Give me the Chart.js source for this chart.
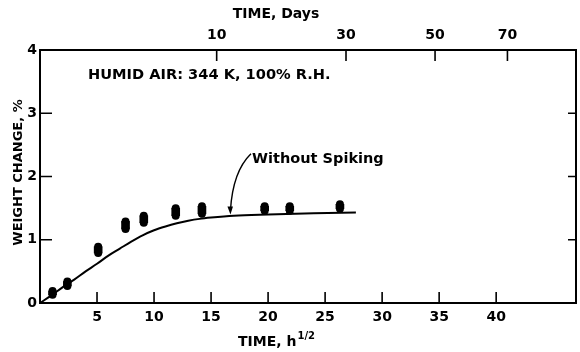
<!DOCTYPE html>
<html>
<head>
<meta charset="utf-8">
<title>Weight change - humid air</title>
<script src="https://cdn.jsdelivr.net/npm/chart.js@4.4.1/dist/chart.umd.min.js"></script>
<style>
  html, body { margin: 0; padding: 0; background: #fff; }
  #wrap { width: 580px; height: 352px; position: relative; }
</style>
</head>
<body>
<div id="wrap"><canvas id="weightChart"></canvas></div>
<script>
// values (x in h^1/2, y in %), two specimens per time
const timeRoot = [1.1, 2.4, 5.1, 7.5, 9.1, 11.9, 14.2, 19.7, 21.9, 26.3];
const weightLow = [0.13, 0.27, 0.79, 1.17, 1.27, 1.38, 1.41, 1.46, 1.46, 1.49];
const weightHigh = [0.19, 0.34, 0.89, 1.29, 1.38, 1.50, 1.53, 1.53, 1.53, 1.56];

// fitted curve "Without Spiking"
const curveTime = [0, 1, 2, 3, 4, 5, 6, 7, 8, 9, 10, 11, 12, 13, 14, 15, 17, 20, 24, 27.7];
const curveWeight = [0, 0.12, 0.25, 0.37, 0.50, 0.62, 0.75, 0.86, 0.97, 1.07, 1.15, 1.21, 1.26, 1.30, 1.33, 1.35, 1.38, 1.40, 1.42, 1.43];

// axes
const rootTicks = [5, 10, 15, 20, 25, 30, 35, 40];
const dayTicks = [10, 30, 50, 70];
const weightTicks = [0, 1, 2, 3, 4];
const innerWeightTicks = [1, 2, 3];

// annotation anchors in data units
const noteText = 'Without Spiking';
const notePos = { x: 18.6, y: 2.27 };
const arrowFrom = { x: 18.5, y: 2.36 };
const arrowBend = { x: 16.9, y: 2.08 };
const arrowTo = { x: 16.7, y: 1.40 };

const FONT = '"DejaVu Sans", sans-serif';

function toPoints(xs, ys) {
  return xs.map((x, i) => ({ x: x, y: ys[i] }));
}

// ticks pointing into the plot, plus titles and notes
const decorPlugin = {
  id: 'decor',
  afterDraw(chart) {
    const ctx = chart.ctx;
    const a = chart.chartArea;
    const x = chart.scales.x, x2 = chart.scales.x2, y = chart.scales.y;
    ctx.save();
    ctx.strokeStyle = '#000';
    ctx.lineWidth = 1.6;
    ctx.beginPath();
    rootTicks.forEach(v => {
      const px = x.getPixelForValue(v);
      ctx.moveTo(px, a.bottom);
      ctx.lineTo(px, a.bottom - 11);
    });
    dayTicks.forEach(d => {
      const px = x2.getPixelForValue(Math.sqrt(d * 24));
      ctx.moveTo(px, a.top);
      ctx.lineTo(px, a.top + 11);
    });
    innerWeightTicks.forEach(v => {
      const py = y.getPixelForValue(v);
      ctx.moveTo(a.left, py);
      ctx.lineTo(a.left + 12, py);
      ctx.moveTo(a.right, py);
      ctx.lineTo(a.right - 8, py);
    });
    ctx.stroke();

    ctx.fillStyle = '#000';
    ctx.textBaseline = 'middle';
    const titleX = a.left + 236;

    // top title
    ctx.font = 'bold 14px ' + FONT;
    ctx.textAlign = 'center';
    ctx.fillText('TIME, Days', titleX, 14);

    // bottom title with superscript
    const base = 'TIME, h';
    const sup = '1/2';
    ctx.font = 'bold 14px ' + FONT;
    const wBase = ctx.measureText(base).width;
    ctx.font = 'bold 10px ' + FONT;
    const wSup = ctx.measureText(sup).width;
    const startX = titleX - (wBase + wSup) / 2;
    ctx.textAlign = 'left';
    ctx.font = 'bold 14px ' + FONT;
    ctx.fillText(base, startX, 342);
    ctx.font = 'bold 10px ' + FONT;
    ctx.fillText(sup, startX + wBase + 1, 336);

    // y title
    ctx.save();
    ctx.translate(19, (a.top + a.bottom) / 2 - 4);
    ctx.rotate(-Math.PI / 2);
    ctx.textAlign = 'center';
    ctx.font = 'bold 13px ' + FONT;
    ctx.fillText('WEIGHT CHANGE, %', 0, 0);
    ctx.restore();

    // condition note
    ctx.textAlign = 'left';
    ctx.font = 'bold 14.6px ' + FONT;
    ctx.fillText('HUMID AIR: 344 K, 100% R.H.', a.left + 48, 75);

    // curve label and arrow
    ctx.font = 'bold 14.5px ' + FONT;
    ctx.fillText(noteText, x.getPixelForValue(notePos.x), y.getPixelForValue(notePos.y));
    const fx = x.getPixelForValue(arrowFrom.x), fy = y.getPixelForValue(arrowFrom.y);
    const bx = x.getPixelForValue(arrowBend.x), by = y.getPixelForValue(arrowBend.y);
    const tx = x.getPixelForValue(arrowTo.x), ty = y.getPixelForValue(arrowTo.y);
    ctx.lineWidth = 1.4;
    ctx.beginPath();
    ctx.moveTo(fx, fy);
    ctx.quadraticCurveTo(bx, by, tx, ty - 4);
    ctx.stroke();
    ctx.beginPath();
    ctx.moveTo(tx, ty);
    ctx.lineTo(tx - 3, ty - 8);
    ctx.lineTo(tx + 2.5, ty - 8);
    ctx.closePath();
    ctx.fill();
    ctx.restore();
  }
};

const axisBorder = { display: true, color: '#000', width: 2 };
const tickFont = { family: FONT, size: 14, weight: 'bold' };
const dotStyle = {
  type: 'scatter',
  backgroundColor: '#000',
  borderColor: '#000',
  pointRadius: 4,
  borderWidth: 0
};

new Chart(document.getElementById('weightChart'), {
  type: 'bar',
  data: {
    datasets: [
      {
        type: 'line',
        label: 'Without Spiking',
        data: toPoints(curveTime, curveWeight),
        borderColor: '#000',
        borderWidth: 2,
        pointRadius: 0,
        cubicInterpolationMode: 'monotone',
        fill: false
      },
      // span between the two specimens, makes each pair read as one blob
      {
        type: 'bar',
        label: 'span',
        data: timeRoot.map((t, i) => ({ x: t, y: [weightLow[i], weightHigh[i]] })),
        backgroundColor: '#000',
        barThickness: 8,
        grouped: false
      },
      Object.assign({ label: 'low', data: toPoints(timeRoot, weightLow) }, dotStyle),
      Object.assign({ label: 'high', data: toPoints(timeRoot, weightHigh) }, dotStyle)
    ]
  },
  options: {
    responsive: true,
    maintainAspectRatio: false,
    animation: false,
    layout: { padding: 0 },
    plugins: {
      legend: { display: false },
      tooltip: { enabled: false }
    },
    scales: {
      x: {
        type: 'linear',
        position: 'bottom',
        min: 0,
        max: 47,
        offset: false,
        afterBuildTicks: s => { s.ticks = rootTicks.map(v => ({ value: v })); },
        afterFit: s => { s.height = 49; },
        ticks: { color: '#000', font: tickFont, padding: 6, maxRotation: 0 },
        grid: { display: false, drawTicks: false, offset: false },
        border: axisBorder
      },
      x2: {
        type: 'linear',
        position: 'top',
        min: 0,
        max: 47,
        offset: false,
        afterBuildTicks: s => { s.ticks = dayTicks.map(d => ({ value: Math.sqrt(d * 24) })); },
        afterFit: s => { s.height = 50; },
        ticks: { color: '#000', font: tickFont, padding: 6, maxRotation: 0, callback: (v, i) => dayTicks[i] },
        grid: { display: false, drawTicks: false, offset: false },
        border: axisBorder
      },
      y: {
        type: 'linear',
        position: 'left',
        min: 0,
        max: 4,
        afterBuildTicks: s => { s.ticks = weightTicks.map(v => ({ value: v })); },
        afterFit: s => { s.width = 40; },
        ticks: { color: '#000', font: tickFont, padding: 3 },
        grid: { display: false, drawTicks: false },
        border: axisBorder
      },
      y2: {
        type: 'linear',
        position: 'right',
        min: 0,
        max: 4,
        afterFit: s => { s.width = -4; },
        ticks: { display: false },
        grid: { display: false, drawTicks: false },
        border: axisBorder
      }
    }
  },
  plugins: [decorPlugin]
});
</script>
</body>
</html>
